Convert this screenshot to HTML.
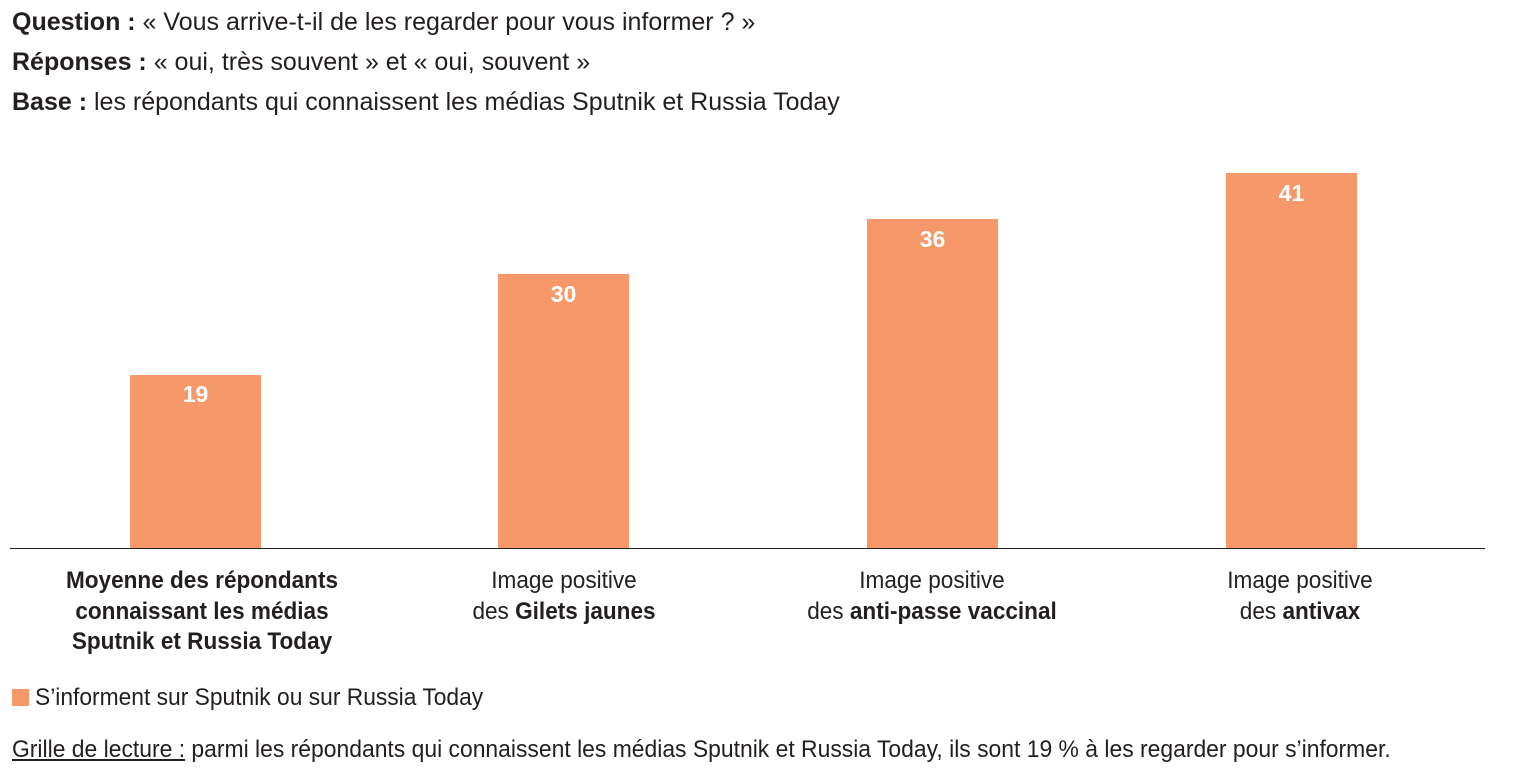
<!DOCTYPE html>
<html><head><meta charset="utf-8"><style>
body{margin:0;width:1521px;height:781px;background:#fff;position:relative;overflow:hidden;font-family:"Liberation Sans Narrow","Liberation Sans",sans-serif;color:#231f20}
.t{position:absolute;white-space:nowrap;font-size:25px;line-height:1;transform-origin:0 0}
.bar{position:absolute;background:#f7986a;width:131px}
.v{position:absolute;width:131px;text-align:center;color:#fff;font-weight:bold;font-size:23px}
.c{position:absolute;width:340px;text-align:center;font-size:24px;line-height:30.5px;transform:scaleX(0.94)}
</style></head><body>
<div class="t" style="left:12px;top:10px"><b>Question :</b> « Vous arrive-t-il de les regarder pour vous informer ? »</div>
<div class="t" style="left:12px;top:50px"><b>Réponses :</b> « oui, très souvent » et « oui, souvent »</div>
<div class="t" style="left:12px;top:90px"><b>Base :</b> les répondants qui connaissent les médias Sputnik et Russia Today</div>

<div class="bar" style="left:130px;top:375px;height:174px"></div>
<div class="bar" style="left:498px;top:274px;height:275px"></div>
<div class="bar" style="left:867px;top:219px;height:330px"></div>
<div class="bar" style="left:1226px;top:173px;height:376px"></div>
<div class="v" style="left:130px;top:381px">19</div>
<div class="v" style="left:498px;top:281px">30</div>
<div class="v" style="left:867px;top:226px">36</div>
<div class="v" style="left:1226px;top:180px">41</div>
<div style="position:absolute;left:10px;top:548px;width:1475px;height:1px;background:#231f20"></div>

<div class="c" style="left:32px;top:566px;font-weight:bold">Moyenne des répondants<br>connaissant les médias<br>Sputnik et Russia Today</div>
<div class="c" style="left:394px;top:566px">Image positive<br>des <b>Gilets jaunes</b></div>
<div class="c" style="left:762px;top:566px">Image positive<br>des <b>anti-passe vaccinal</b></div>
<div class="c" style="left:1130px;top:566px">Image positive<br>des <b>antivax</b></div>

<div style="position:absolute;left:12px;top:689px;width:17px;height:17px;background:#f7986a"></div>
<div class="t" style="left:35px;top:686px;font-size:24px;transform:scaleX(0.95)">S’informent sur Sputnik ou sur Russia Today</div>
<div class="t" style="left:12px;top:738px;font-size:24px;transform:scaleX(0.954)"><u>Grille de lecture :</u> parmi les répondants qui connaissent les médias Sputnik et Russia Today, ils sont 19 % à les regarder pour s’informer.</div>
</body></html>
